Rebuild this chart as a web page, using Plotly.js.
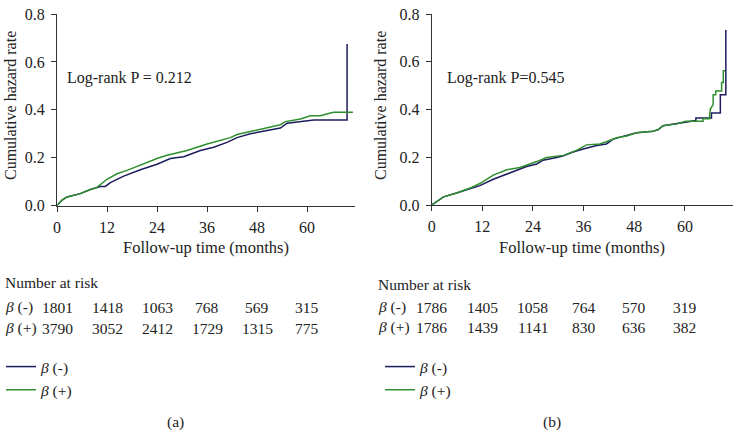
<!DOCTYPE html>
<html>
<head>
<meta charset="utf-8">
<script src="https://cdn.plot.ly/plotly-3.0.1.min.js"></script>
<style>html,body{margin:0;padding:0;background:#fff;}#chart{width:735px;height:430px;}</style>
</head>
<body>
<div id="chart"></div>
<script>
// ---- data ----
const tickMonths = [0, 12, 24, 36, 48, 60];
const hazardTicks = [0, 0.2, 0.4, 0.6, 0.8];
const hazardTickText = ['0.0', '0.2', '0.4', '0.6', '0.8'];
const riskA_minus = [1801, 1418, 1063, 768, 569, 315];
const riskA_plus  = [3790, 3052, 2412, 1729, 1315, 775];
const riskB_minus = [1786, 1405, 1058, 764, 570, 319];
const riskB_plus  = [1786, 1439, 1141, 830, 636, 382];

const aMinusX = [0, 1.2, 2.4, 5.6, 8, 10.4, 11.6, 12.8, 16, 20, 24, 27.2, 30.4, 34.4, 37.6, 40.8, 43.2, 46.4, 50.4, 53.6, 55.2, 58.4, 61.6, 69.6, 69.6];
const aMinusY = [0, 0.023, 0.036, 0.05, 0.067, 0.08, 0.08, 0.096, 0.123, 0.15, 0.173, 0.197, 0.204, 0.23, 0.244, 0.264, 0.284, 0.30, 0.314, 0.324, 0.344, 0.351, 0.358, 0.358, 0.675];
const aPlusX = [0, 1.2, 2.4, 5.6, 8, 9.6, 12, 14.4, 16.8, 20, 24, 26.4, 28.8, 31.2, 36, 39.2, 41.6, 43.2, 48.8, 53.6, 54.8, 58.4, 60.8, 63.2, 65.6, 66.4, 71.0];
const aPlusY = [0, 0.023, 0.036, 0.05, 0.067, 0.076, 0.11, 0.133, 0.147, 0.17, 0.197, 0.21, 0.22, 0.23, 0.257, 0.273, 0.284, 0.297, 0.32, 0.338, 0.351, 0.362, 0.375, 0.375, 0.387, 0.39, 0.39];

const bMinusX = [0, 2.8, 5.9, 9.1, 11.4, 14.6, 18.5, 22.5, 24.9, 26.4, 29.6, 31.2, 33.5, 35.9, 39.1, 41.4, 43, 45.4, 48.5, 52.5, 53.7, 54.8, 58, 60, 62.6, 62.6, 66.3, 66.3, 68.4, 68.4, 69.7, 69.7];
const bMinusY = [0, 0.034, 0.05, 0.067, 0.081, 0.108, 0.134, 0.161, 0.172, 0.188, 0.199, 0.206, 0.222, 0.235, 0.249, 0.256, 0.276, 0.289, 0.303, 0.309, 0.316, 0.332, 0.34, 0.346, 0.354, 0.365, 0.365, 0.386, 0.386, 0.462, 0.462, 0.733];
const bPlusX = [0, 2.8, 5.9, 9.1, 11.4, 14.6, 17.8, 20.9, 24.9, 27.2, 31.2, 34.3, 36.7, 39.8, 41.4, 43.8, 46.2, 48.5, 52.5, 53.7, 54.8, 58, 60.2, 64.3, 64.3, 65.8, 66.0, 66.7, 66.7, 67.3, 67.3, 68.7, 68.7, 69.1, 69.1, 69.5];
const bPlusY = [0, 0.034, 0.05, 0.071, 0.09, 0.125, 0.148, 0.157, 0.182, 0.199, 0.208, 0.229, 0.252, 0.256, 0.265, 0.282, 0.289, 0.303, 0.309, 0.316, 0.332, 0.34, 0.351, 0.351, 0.362, 0.362, 0.40, 0.422, 0.462, 0.462, 0.478, 0.478, 0.513, 0.513, 0.563, 0.563];

const labelMinus = '<i>β</i> (-)';
const labelPlus = '<i>β</i> (+)';

// ---- style ----
const FONT = 'Liberation Serif, Times New Roman, serif';
const BLUE = '#1c1c5e';
const GREEN = '#2e8f2e';
const W = 735, H = 430, T = 14;
const px = v => v / W;
const py = v => 1 - (v - T) / (H - T);

const traces = [
  {x: aMinusX, y: aMinusY, xaxis: 'x', yaxis: 'y', mode: 'lines', name: labelMinus, line: {color: BLUE, width: 1.5}, legend: 'legend'},
  {x: aPlusX, y: aPlusY, xaxis: 'x', yaxis: 'y', mode: 'lines', name: labelPlus, line: {color: GREEN, width: 1.5}, legend: 'legend'},
  {x: bMinusX, y: bMinusY, xaxis: 'x2', yaxis: 'y2', mode: 'lines', name: labelMinus, line: {color: BLUE, width: 1.5}, legend: 'legend2'},
  {x: bPlusX, y: bPlusY, xaxis: 'x2', yaxis: 'y2', mode: 'lines', name: labelPlus, line: {color: GREEN, width: 1.5}, legend: 'legend2'}
];

const axCommon = {
  showline: true, linecolor: '#333', linewidth: 1, ticks: 'outside', ticklen: 5, tickcolor: '#333',
  showgrid: false, zeroline: false, tickfont: {family: FONT, size: 16, color: '#222'}, fixedrange: true
};
const xCommon = Object.assign({}, axCommon, {tickmode: 'array', tickvals: tickMonths, ticklabelstandoff: 2});
const yCommon = Object.assign({}, axCommon, {range: [0, 0.8005], tickmode: 'array', tickvals: hazardTicks, ticktext: hazardTickText, ticklabelstandoff: 3});

const annotations = [];
function addText(text, x, y, xanchor, xref, size) {
  annotations.push({text: text, x: x, y: y, xref: xref || 'paper', yref: 'paper', xanchor: xanchor, yanchor: 'middle',
    showarrow: false, font: {family: FONT, size: size || 15, color: '#222'}});
}
// axis titles
addText('Follow-up time (months)', px(206), py(247), 'center', 'paper', 16.5);
addText('Follow-up time (months)', px(582), py(247), 'center', 'paper', 16.5);
annotations.push({text: 'Cumulative hazard rate', x: px(10), y: py(106), xref: 'paper', yref: 'paper', textangle: -90,
  xanchor: 'center', yanchor: 'middle', showarrow: false, font: {family: FONT, size: 16, color: '#222'}});
annotations.push({text: 'Cumulative hazard rate', x: px(380), y: py(106), xref: 'paper', yref: 'paper', textangle: -90,
  xanchor: 'center', yanchor: 'middle', showarrow: false, font: {family: FONT, size: 16, color: '#222'}});
// log-rank
addText('Log-rank P = 0.212', px(65), py(78), 'left', 'paper', 16);
addText('Log-rank P=0.545', px(445), py(78), 'left', 'paper', 16);
// number at risk
addText('Number at risk', px(3), py(282), 'left', 'paper', 15.5);
addText('Number at risk', px(376), py(284), 'left', 'paper', 15.5);
addText(labelMinus, px(3), py(307), 'left', 'paper', 15.5);
addText(labelPlus, px(3), py(328), 'left', 'paper', 15.5);
addText(labelMinus, px(376), py(307), 'left', 'paper', 15.5);
addText(labelPlus, px(376), py(327), 'left', 'paper', 15.5);
tickMonths.forEach((m, i) => {
  addText(String(riskA_minus[i]), m, py(307), 'center', 'x', 15.5);
  addText(String(riskA_plus[i]), m, py(328), 'center', 'x', 15.5);
  addText(String(riskB_minus[i]), m, py(307), 'center', 'x2', 15.5);
  addText(String(riskB_plus[i]), m, py(327), 'center', 'x2', 15.5);
});
// panel labels
addText('(a)', px(175), py(422), 'center', 'paper', 15.5);
addText('(b)', px(552), py(422), 'center', 'paper', 15.5);

const legendCommon = {bgcolor: 'rgba(0,0,0,0)', borderwidth: 0, font: {family: FONT, size: 15.5, color: '#222'},
  xanchor: 'left', yanchor: 'top', tracegroupgap: 0, itemclick: false, itemdoubleclick: false};

const layout = {
  width: W, height: H, margin: {l: 0, r: 0, t: T, b: 0}, paper_bgcolor: '#fff', plot_bgcolor: 'rgba(0,0,0,0)',
  showlegend: true,
  xaxis: Object.assign({}, xCommon, {domain: [px(57), px(355)], range: [0, 71.5], anchor: 'y'}),
  yaxis: Object.assign({}, yCommon, {domain: [py(205.6), py(6.7)], anchor: 'x'}),
  xaxis2: Object.assign({}, xCommon, {domain: [px(431.7), px(733)], range: [0, 71.4], anchor: 'y2'}),
  yaxis2: Object.assign({}, yCommon, {domain: [py(205), py(6.7)], anchor: 'x2'}),
  legend: Object.assign({}, legendCommon, {x: px(1), y: py(350)}),
  legend2: Object.assign({}, legendCommon, {x: px(380), y: py(350)}),
  annotations: annotations
};

Plotly.newPlot('chart', traces, layout, {staticPlot: true, displayModeBar: false});
</script>
</body>
</html>
